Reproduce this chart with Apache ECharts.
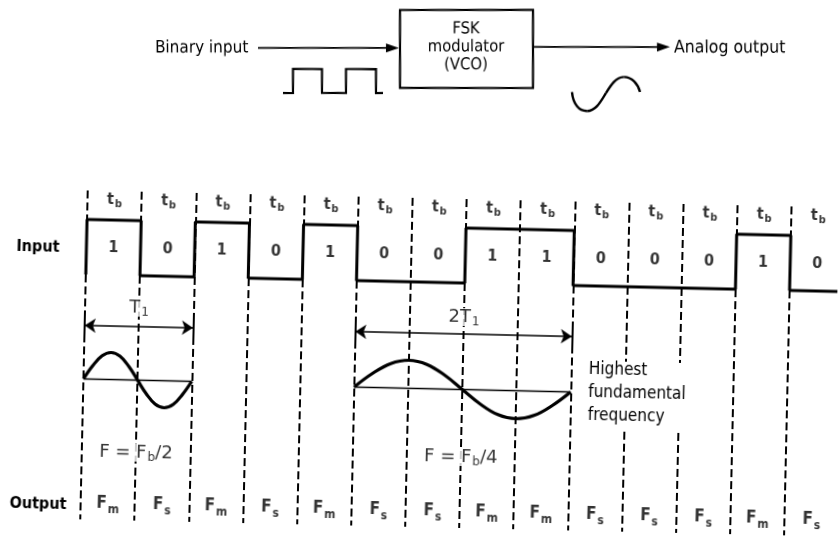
<!DOCTYPE html>
<html><head><meta charset="utf-8">
<script src="https://cdn.jsdelivr.net/npm/echarts@6/dist/echarts.min.js"></script>
<style>
html,body{margin:0;padding:0;background:#fff;overflow:hidden;width:838px;height:540px}
#c{width:838px;height:540px;transform:rotate(1.3deg);transform-origin:419px 270px}
</style>
</head><body><div id="c"></div>
<script>
// ---------- data ----------
const bits = [1, 0, 1, 0, 1, 0, 0, 1, 1, 0, 0, 0, 1, 0];
const bitLabels = ['1', '0', '1', '0', '1', '0', '0', '1', '1', '0', '0', '0', '1', '0'];
const periodMain = 't', periodSub = 'b';
const outputSubs = ['m', 's', 'm', 's', 'm', 's', 's', 'm', 'm', 's', 's', 's', 'm', 's'];
// sine traces (x in bit periods from start, y in amplitude units)
const sineShortX = [0, 0.167, 0.333, 0.5, 0.667, 0.833, 1, 1.167, 1.333, 1.5, 1.667, 1.833, 2];
const sineShortY = [0, 0.5, 0.87, 1, 0.87, 0.5, 0, -0.5, -0.87, -1, -0.87, -0.5, 0];
const sineShortStart = 0;
const sineLongX = [0, 0.333, 0.667, 1, 1.333, 1.667, 2, 2.333, 2.667, 3, 3.333, 3.667, 4];
const sineLongY = [0, 0.5, 0.87, 1, 0.87, 0.5, 0, -0.5, -0.87, -1, -0.87, -0.5, 0];
const sineLongStart = 5;
const brokenBoundaries = [10, 11];

// ---------- layout (pixels, scan tilt removed; the page tilts it back) ----------
const W = 838, H = 540;
const TILT = 1.3; // degrees, scan rotation
const L = {
  x0: 86, bitW: 54.15, low: 282, high: 227,
  dashTop: 198, dashBot: 527, gapTop: 357, gapBot: 427,
  tbY: 207, bitY: 255, outY: 511,
  s1Base: 386.5, s1Amp: 27, s2Base: 388.5, s2Amp: 28,
  t1Y: 333, t1LabY: 315, t2Y: 333, t2LabY: 317,
  fb2Y: 460, fb4Y: 457
};
const FONT = 'DejaVu Sans Condensed, DejaVu Sans, sans-serif';
const FONT2 = 'DejaVu Sans, sans-serif';
const INK = '#000';
const PAPER = '#fff';

const chart = echarts.init(document.getElementById('c'), null, {renderer: 'canvas'});
const unit = L.low - L.high;

const rich = {
  m: {fontSize: 16, fontFamily: FONT, color: INK, fontWeight: 'bold', lineHeight: 16, verticalAlign: 'top'},
  fm: {fontSize: 17, fontFamily: FONT, color: INK, fontWeight: 'bold', lineHeight: 17, verticalAlign: 'top'},
  n: {fontSize: 18, fontFamily: FONT2, color: INK, lineHeight: 20, verticalAlign: 'top', backgroundColor: PAPER},
  s: {fontSize: 11, fontFamily: FONT, color: INK, fontWeight: 'bold', lineHeight: 11, padding: [7, 0, 0, 1], verticalAlign: 'top'},
  fs: {fontSize: 12, fontFamily: FONT, color: INK, fontWeight: 'bold', lineHeight: 12, padding: [8, 0, 0, 1], verticalAlign: 'top'},
  sn: {fontSize: 12, fontFamily: FONT2, color: INK, lineHeight: 12, padding: [8, 0, 0, 1], verticalAlign: 'top', backgroundColor: PAPER}
};

function textSeries(items, extra) {
  return Object.assign({
    type: 'scatter', xAxisIndex: 0, yAxisIndex: 1, symbolSize: 1, silent: true, z: 20,
    itemStyle: {color: 'rgba(0,0,0,0)'},
    data: items,
    label: {show: true, position: 'inside', color: INK, textBorderWidth: 0, formatter: p => p.name, rich: rich},
    emphasis: {disabled: true}, animation: false
  }, extra || {});
}

// input waveform points from bits
const inputPts = [[0, 0]];
bits.forEach((v, i) => { inputPts.push([i, v], [i + 1, v]); });

// dashed bit boundaries
const dashSegs = [];
for (let b = 0; b < bits.length; b++) {
  if (brokenBoundaries.indexOf(b) >= 0) {
    dashSegs.push({coords: [[b, L.dashTop], [b, L.gapTop]]});
    dashSegs.push({coords: [[b, L.gapBot], [b, L.dashBot]]});
  } else {
    dashSegs.push({coords: [[b, L.dashTop], [b, L.dashBot]]});
  }
}

const tbItems = bits.map((v, i) => ({name: '{m|' + periodMain + '}{s|' + periodSub + '}', value: [i + 0.5, L.tbY]}));
const bitItems = bitLabels.map((t, i) => ({name: '{m|' + t + '}', value: [i + 0.5, L.bitY]}));
const outItems = outputSubs.map((s, i) => ({name: '{fm|F}{fs|' + s + '}', value: [i + 0.5, L.outY]}));

const option = {
  animation: false,
  backgroundColor: '#fff',
  grid: {left: 0, right: 0, top: 0, bottom: 0},
  xAxis: {type: 'value', min: -L.x0 / L.bitW, max: (W - L.x0) / L.bitW, show: false},
  yAxis: [
    {type: 'value', min: -(H - L.low) / unit, max: L.low / unit, show: false},
    {type: 'value', min: 0, max: H, inverse: true, show: false},
    {type: 'value', min: (L.s1Base - H) / L.s1Amp, max: L.s1Base / L.s1Amp, show: false},
    {type: 'value', min: (L.s2Base - H) / L.s2Amp, max: L.s2Base / L.s2Amp, show: false}
  ],
  series: [
    {type: 'lines', coordinateSystem: 'cartesian2d', xAxisIndex: 0, yAxisIndex: 1, silent: true, z: 1,
     data: dashSegs, lineStyle: {color: INK, width: 2, type: [8, 4], opacity: 1}},
    {type: 'line', xAxisIndex: 0, yAxisIndex: 0, data: inputPts, symbol: 'none', z: 5,
     lineStyle: {color: INK, width: 3}},
    // sine baselines
    {type: 'line', xAxisIndex: 0, yAxisIndex: 2, symbol: 'none', z: 4,
     data: [[sineShortStart, 0], [sineShortStart + sineShortX[sineShortX.length - 1], 0]], lineStyle: {color: INK, width: 1.7}},
    {type: 'line', xAxisIndex: 0, yAxisIndex: 3, symbol: 'none', z: 4,
     data: [[sineLongStart, 0], [sineLongStart + sineLongX[sineLongX.length - 1], 0]], lineStyle: {color: INK, width: 1.7}},
    // sines
    {type: 'line', xAxisIndex: 0, yAxisIndex: 2, symbol: 'none', smooth: 0.4, z: 6,
     data: sineShortX.map((x, i) => [sineShortStart + x, sineShortY[i]]), lineStyle: {color: INK, width: 3.2}},
    {type: 'line', xAxisIndex: 0, yAxisIndex: 3, symbol: 'none', smooth: 0.4, z: 6,
     data: sineLongX.map((x, i) => [sineLongStart + x, sineLongY[i]]), lineStyle: {color: INK, width: 3.2}},
    // period arrows
    {type: 'lines', coordinateSystem: 'cartesian2d', xAxisIndex: 0, yAxisIndex: 1, silent: true, z: 6,
     symbol: ['arrow', 'arrow'], symbolSize: 11,
     data: [{coords: [[0, L.t1Y], [2, L.t1Y]]}, {coords: [[5, L.t2Y], [9, L.t2Y]]}],
     lineStyle: {color: INK, width: 1.7, opacity: 1}},
    {type: 'lines', coordinateSystem: 'cartesian2d', xAxisIndex: 0, yAxisIndex: 1, silent: true, z: 6,
     data: [{coords: [[0, L.t1Y - 9], [0, L.t1Y + 10]]}, {coords: [[2, L.t1Y - 9], [2, L.t1Y + 10]]},
            {coords: [[5, L.t2Y - 9], [5, L.t2Y + 10]]}, {coords: [[9, L.t2Y - 8], [9, L.t2Y + 10]]}],
     lineStyle: {color: INK, width: 2, opacity: 1}},
    textSeries(tbItems),
    textSeries(bitItems),
    textSeries(outItems),
    textSeries([
      {name: '{n|T}{sn|1}', value: [1, L.t1LabY]},
      {name: '{n|2T}{sn|1}', value: [7, L.t2LabY]},
      {name: '{n|F = F}{sn|b}{n|/2}', value: [1, L.fb2Y]},
      {name: '{n|F = F}{sn|b}{n|/4}', value: [7, L.fb4Y]}
    ], {z: 25, zlevel: 1})
  ]
};
chart.setOption(option);

// ---------- block diagram (kept level) and row captions ----------
function txt(x, y, s, size, weight, align, fam) {
  return {type: 'text', x: x, y: y, z: 30, silent: true,
    style: {text: s, fontSize: size, fontFamily: fam || FONT, fontWeight: weight || 'normal', fill: INK,
            align: align || 'left', verticalAlign: 'middle'}};
}
function bez(p) {
  return {type: 'bezierCurve', z: 30, silent: true,
    shape: {x1: p[0], y1: p[1], cpx1: p[2], cpy1: p[3], cpx2: p[4], cpy2: p[5], x2: p[6], y2: p[7]},
    style: {stroke: INK, lineWidth: 2.4, fill: null}};
}
const blockDiagram = [
  txt(155, 48, 'Binary input', 17),
  {type: 'line', shape: {x1: 258, y1: 48, x2: 390, y2: 48}, style: {stroke: INK, lineWidth: 1.8}},
  {type: 'polygon', shape: {points: [[399, 48], [386, 43.5], [386, 52.5]]}, style: {fill: INK}},
  {type: 'rect', shape: {x: 400, y: 10, width: 133, height: 78}, style: {stroke: INK, lineWidth: 2.2, fill: null}},
  txt(466, 29, 'FSK', 16.5, 'normal', 'center'),
  txt(466, 47, 'modulator', 16.5, 'normal', 'center'),
  txt(466, 65, '(VCO)', 16.5, 'normal', 'center'),
  {type: 'line', shape: {x1: 533, y1: 47, x2: 660, y2: 47}, style: {stroke: INK, lineWidth: 1.8}},
  {type: 'polygon', shape: {points: [[670, 47], [657, 42.5], [657, 51.5]]}, style: {fill: INK}},
  txt(674, 48, 'Analog output', 17.5),
  {type: 'polyline', shape: {points: [[283, 93], [293, 93], [293, 69], [322, 69], [322, 93], [346, 93], [346, 69], [376, 69], [376, 93], [383, 93]]},
   style: {stroke: INK, lineWidth: 2.2, fill: null}},
  bez([572, 92, 573, 104, 579, 111, 587, 111]),
  bez([587, 111, 596, 111, 601, 101, 606, 93]),
  bez([606, 93, 611, 85, 616, 77, 624, 77]),
  bez([624, 77, 632, 77, 638, 84, 640, 92])
];
const graphic = [
  {type: 'group', rotation: TILT * Math.PI / 180, originX: 419, originY: 270, children: blockDiagram},
  txt(16, 256, 'Input', 16, 'bold'),
  txt(15, 513, 'Output', 16, 'bold'),
  txt(591, 366, 'Highest', 17),
  txt(591, 389, 'fundamental', 17),
  txt(591, 412, 'frequency', 17)
];
chart.setOption({graphic: graphic});
</script></body></html>
